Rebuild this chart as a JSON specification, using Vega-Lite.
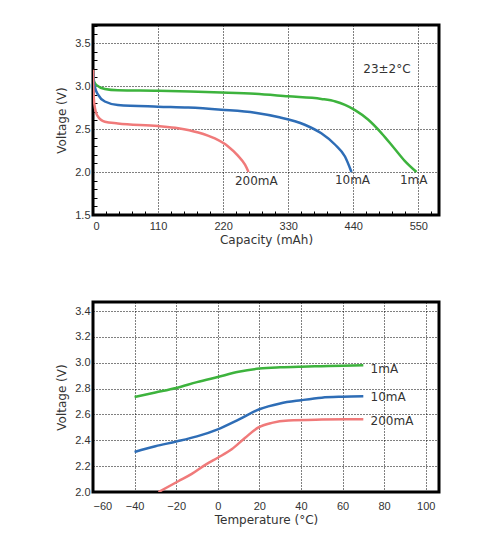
{
  "$schema": "https://vega.github.io/schema/vega-lite/v6.json",
  "padding": {"left": 54, "top": 18, "right": 5, "bottom": 5},
  "spacing": 53,
  "datasets": {
    "discharge": [
      {"rate": "1mA", "cap": 0, "v": 3.11}, {"rate": "1mA", "cap": 2, "v": 3.05}, {"rate": "1mA", "cap": 6, "v": 3.01},
      {"rate": "1mA", "cap": 20, "v": 2.965}, {"rate": "1mA", "cap": 42, "v": 2.95}, {"rate": "1mA", "cap": 110, "v": 2.945},
      {"rate": "1mA", "cap": 217, "v": 2.926}, {"rate": "1mA", "cap": 274, "v": 2.91}, {"rate": "1mA", "cap": 330, "v": 2.88},
      {"rate": "1mA", "cap": 386, "v": 2.85}, {"rate": "1mA", "cap": 410, "v": 2.82}, {"rate": "1mA", "cap": 426, "v": 2.78},
      {"rate": "1mA", "cap": 443, "v": 2.72}, {"rate": "1mA", "cap": 465, "v": 2.61}, {"rate": "1mA", "cap": 488, "v": 2.45},
      {"rate": "1mA", "cap": 510, "v": 2.27}, {"rate": "1mA", "cap": 527, "v": 2.13}, {"rate": "1mA", "cap": 547, "v": 2.0},
      {"rate": "10mA", "cap": 0, "v": 3.15}, {"rate": "10mA", "cap": 1, "v": 3.06}, {"rate": "10mA", "cap": 3, "v": 2.99},
      {"rate": "10mA", "cap": 8.5, "v": 2.9}, {"rate": "10mA", "cap": 20, "v": 2.82}, {"rate": "10mA", "cap": 42, "v": 2.78},
      {"rate": "10mA", "cap": 110, "v": 2.76}, {"rate": "10mA", "cap": 161, "v": 2.75}, {"rate": "10mA", "cap": 217, "v": 2.725},
      {"rate": "10mA", "cap": 274, "v": 2.69}, {"rate": "10mA", "cap": 313, "v": 2.64}, {"rate": "10mA", "cap": 358, "v": 2.55},
      {"rate": "10mA", "cap": 386, "v": 2.45}, {"rate": "10mA", "cap": 409, "v": 2.32}, {"rate": "10mA", "cap": 426, "v": 2.18},
      {"rate": "10mA", "cap": 437, "v": 2.0},
      {"rate": "200mA", "cap": 0, "v": 3.19}, {"rate": "200mA", "cap": 0.6, "v": 2.95}, {"rate": "200mA", "cap": 2.5, "v": 2.78},
      {"rate": "200mA", "cap": 7, "v": 2.66}, {"rate": "200mA", "cap": 20, "v": 2.585}, {"rate": "200mA", "cap": 42, "v": 2.565},
      {"rate": "200mA", "cap": 110, "v": 2.535}, {"rate": "200mA", "cap": 144, "v": 2.51}, {"rate": "200mA", "cap": 178, "v": 2.46},
      {"rate": "200mA", "cap": 206, "v": 2.39}, {"rate": "200mA", "cap": 228, "v": 2.3}, {"rate": "200mA", "cap": 245, "v": 2.19},
      {"rate": "200mA", "cap": 257, "v": 2.085}, {"rate": "200mA", "cap": 263, "v": 2.0}
    ],
    "discharge_labels": [
      {"cap": 240, "v": 1.89, "text": "200mA"},
      {"cap": 409, "v": 1.905, "text": "10mA"},
      {"cap": 519, "v": 1.905, "text": "1mA"},
      {"cap": 457, "v": 3.2, "text": "23±2°C"}
    ],
    "temperature": [
      {"rate": "1mA", "t": -40, "v": 2.735}, {"rate": "1mA", "t": -30, "v": 2.77}, {"rate": "1mA", "t": -20, "v": 2.805},
      {"rate": "1mA", "t": -10, "v": 2.85}, {"rate": "1mA", "t": 0, "v": 2.89}, {"rate": "1mA", "t": 10, "v": 2.93},
      {"rate": "1mA", "t": 20, "v": 2.955}, {"rate": "1mA", "t": 30, "v": 2.965}, {"rate": "1mA", "t": 40, "v": 2.97},
      {"rate": "1mA", "t": 50, "v": 2.973}, {"rate": "1mA", "t": 60, "v": 2.976}, {"rate": "1mA", "t": 70, "v": 2.98},
      {"rate": "10mA", "t": -40, "v": 2.31}, {"rate": "10mA", "t": -30, "v": 2.354}, {"rate": "10mA", "t": -20, "v": 2.39},
      {"rate": "10mA", "t": -10, "v": 2.43}, {"rate": "10mA", "t": 0, "v": 2.485}, {"rate": "10mA", "t": 10, "v": 2.56},
      {"rate": "10mA", "t": 20, "v": 2.64}, {"rate": "10mA", "t": 30, "v": 2.685}, {"rate": "10mA", "t": 40, "v": 2.71},
      {"rate": "10mA", "t": 50, "v": 2.73}, {"rate": "10mA", "t": 60, "v": 2.737}, {"rate": "10mA", "t": 70, "v": 2.74},
      {"rate": "200mA", "t": -28.5, "v": 2.0}, {"rate": "200mA", "t": -19, "v": 2.083}, {"rate": "200mA", "t": -12.5, "v": 2.14},
      {"rate": "200mA", "t": -6, "v": 2.21}, {"rate": "200mA", "t": 0, "v": 2.265}, {"rate": "200mA", "t": 6.7, "v": 2.33},
      {"rate": "200mA", "t": 13.2, "v": 2.42}, {"rate": "200mA", "t": 19.6, "v": 2.5}, {"rate": "200mA", "t": 26, "v": 2.535},
      {"rate": "200mA", "t": 34, "v": 2.553}, {"rate": "200mA", "t": 50, "v": 2.56}, {"rate": "200mA", "t": 70, "v": 2.563}
    ],
    "temperature_labels": [
      {"t": 73.5, "v": 2.955, "text": "1mA"},
      {"t": 73.5, "v": 2.736, "text": "10mA"},
      {"t": 73.5, "v": 2.553, "text": "200mA"}
    ]
  },
  "vconcat": [
    {
      "width": 346,
      "height": 190,
      "layer": [
        {
          "data": {"name": "discharge"},
          "mark": {"type": "line", "strokeWidth": 2.5, "interpolate": "monotone", "clip": true},
          "encoding": {
            "x": {
              "field": "cap",
              "type": "quantitative",
              "title": "Capacity (mAh)",
              "scale": {"domain": [0, 585], "nice": false, "zero": false},
              "axis": {
                "values": [0, 22, 44, 66, 88, 110, 132, 154, 176, 198, 220, 242, 264, 286, 308, 330, 352, 374, 396, 418, 440, 462, 484, 506, 528, 550, 572],
                "tickCount": 100,
                "labelExpr": "datum.value % 110 === 0 ? datum.label : ''",
                "gridOpacity": {"condition": {"test": "datum.value % 110 === 0", "value": 1}, "value": 0},
                "tickOpacity": {"condition": {"test": "datum.value % 110 === 0", "value": 0}, "value": 1},
                "tickSize": -4,
                "labelPadding": 9,
                "titlePadding": 3
              }
            },
            "y": {
              "field": "v",
              "type": "quantitative",
              "title": "Voltage (V)",
              "scale": {"domain": [1.5, 3.71], "nice": false, "zero": false},
              "axis": {
                "values": [1.5, 1.6, 1.7, 1.8, 1.9, 2.0, 2.1, 2.2, 2.3, 2.4, 2.5, 2.6, 2.7, 2.8, 2.9, 3.0, 3.1, 3.2, 3.3, 3.4, 3.5, 3.6, 3.7],
                "tickCount": 100,
                "format": ".1f",
                "labelExpr": "abs(datum.value * 2 - round(datum.value * 2)) < 0.001 ? datum.label : ''",
                "gridOpacity": {"condition": {"test": "abs(datum.value * 2 - round(datum.value * 2)) < 0.001", "value": 1}, "value": 0},
                "tickOpacity": {"condition": {"test": "abs(datum.value * 2 - round(datum.value * 2)) < 0.001", "value": 0}, "value": 1},
                "tickSize": -4,
                "labelPadding": 7,
                "titlePadding": 6
              }
            },
            "color": {
              "field": "rate",
              "type": "nominal",
              "legend": null,
              "sort": ["1mA", "10mA", "200mA"],
              "scale": {"domain": ["1mA", "10mA", "200mA"], "range": ["#3db33d", "#2e6db6", "#f07a7a"]}
            }
          }
        },
        {
          "data": {"name": "discharge_labels"},
          "mark": {"type": "text", "align": "left", "baseline": "middle", "font": "DejaVu Sans", "fontSize": 12, "color": "#333"},
          "encoding": {
            "x": {"field": "cap", "type": "quantitative"},
            "y": {"field": "v", "type": "quantitative"},
            "text": {"field": "text"}
          }
        }
      ]
    },
    {
      "width": 346,
      "height": 190,
      "layer": [
        {
          "data": {"name": "temperature"},
          "mark": {"type": "line", "strokeWidth": 2.5, "interpolate": "monotone", "clip": true},
          "encoding": {
            "x": {
              "field": "t",
              "type": "quantitative",
              "title": "Temperature (°C)",
              "scale": {"domain": [-60, 106.4], "nice": false, "zero": false},
              "axis": {
                "values": [-60, -40, -20, 0, 20, 40, 60, 80, 100],
                "tickCount": 100,
                "ticks": false,
                "labelPadding": 8,
                "titlePadding": 3
              }
            },
            "y": {
              "field": "v",
              "type": "quantitative",
              "title": "Voltage (V)",
              "scale": {"domain": [2.0, 3.47], "nice": false, "zero": false},
              "axis": {
                "values": [2.0, 2.2, 2.4, 2.6, 2.8, 3.0, 3.2, 3.4],
                "tickCount": 100,
                "format": ".1f",
                "ticks": false,
                "labelPadding": 3,
                "titlePadding": 6
              }
            },
            "color": {
              "field": "rate",
              "type": "nominal",
              "legend": null,
              "sort": ["1mA", "10mA", "200mA"],
              "scale": {"domain": ["1mA", "10mA", "200mA"], "range": ["#3db33d", "#2e6db6", "#f07a7a"]}
            }
          }
        },
        {
          "data": {"name": "temperature_labels"},
          "mark": {"type": "text", "align": "left", "baseline": "middle", "font": "DejaVu Sans", "fontSize": 12, "color": "#333"},
          "encoding": {
            "x": {"field": "t", "type": "quantitative"},
            "y": {"field": "v", "type": "quantitative"},
            "text": {"field": "text"}
          }
        }
      ]
    }
  ],
  "resolve": {"scale": {"color": "shared"}},
  "config": {
    "view": {"stroke": "black", "strokeWidth": 3},
    "axis": {
      "domain": false,
      "grid": true,
      "gridColor": "black",
      "gridDash": [1, 2],
      "gridWidth": 1,
      "tickColor": "black",
      "labelOverlap": false,
      "labelFont": "Liberation Sans",
      "labelFontSize": 11,
      "labelColor": "#333",
      "titleFont": "DejaVu Sans",
      "titleFontSize": 12,
      "titleFontWeight": "normal",
      "titleColor": "#333"
    }
  }
}
